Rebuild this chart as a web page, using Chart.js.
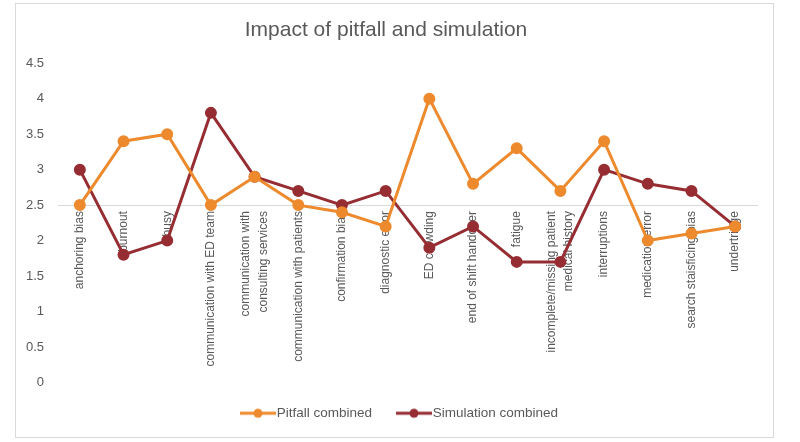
<!DOCTYPE html>
<html>
<head>
<meta charset="utf-8">
<script src="https://cdn.jsdelivr.net/npm/chart.js@4.4.1/dist/chart.umd.min.js"></script>
<style>
  body { margin: 0; background: #fff; }
  #wrap { position: relative; width: 800px; height: 442px; }
  #frame { position: absolute; left: 15px; top: 3px; width: 757px; height: 433px; border: 1px solid #d9d9d9; }
  canvas { position: absolute; left: 0; top: 0; }
</style>
</head>
<body>
<div id="wrap">
  <div id="frame"></div>
  <canvas id="impactChart" width="800" height="442"></canvas>
</div>
<script>
// categories (x axis)
const categories = [
  "anchoring bias",
  "burnout",
  "busy",
  "communication with ED team",
  ["communication with", "consulting services"],
  "communication with patients",
  "confirmation bias",
  "diagnostic error",
  "ED crowding",
  "end of shift handover",
  "fatigue",
  ["incomplete/missing patient", "medical history"],
  "interruptions",
  "medication error",
  "search staisficing bias",
  "undertriage"
];

// series values
const pitfallCombined = [2.5, 3.4, 3.5, 2.5, 2.9, 2.5, 2.4, 2.2, 4.0, 2.8, 3.3, 2.7, 3.4, 2.0, 2.1, 2.2];
const simulationCombined = [3.0, 1.8, 2.0, 3.8, 2.9, 2.7, 2.5, 2.7, 1.9, 2.2, 1.7, 1.7, 3.0, 2.8, 2.7, 2.2];

// y axis
const yMin = 0;
const yMax = 4.5;
const yStep = 0.5;
const axisCrossing = 2.5;

const orange = "#ED8A2D";
const darkRed = "#962D33";
const textGrey = "#595959";

// legend marker: short line with a dot in the middle, like the Excel legend
// (6px of empty space on the left so the line ends right where the text starts)
function legendMarker(color) {
  const c = document.createElement("canvas");
  c.width = 42;
  c.height = 12;
  const g = c.getContext("2d");
  g.strokeStyle = color;
  g.lineWidth = 3;
  g.beginPath();
  g.moveTo(6, 6);
  g.lineTo(42, 6);
  g.stroke();
  g.fillStyle = color;
  g.beginPath();
  g.arc(24, 6, 4.5, 0, Math.PI * 2);
  g.fill();
  return c;
}

// center the two-line category labels on their tick, and nudge the legend
const tweaks = {
  id: "tweaks",
  afterLayout(chart) {
    const lg = chart.legend;
    if (lg) {
      lg.left += 13;
      lg.right += 13;
    }
  },
  beforeDraw(chart) {
    const scale = chart.scales.x;
    const items = scale.getLabelItems(chart.chartArea);
    items.forEach((item) => {
      if (Array.isArray(item.label) && item.label.length > 1) {
        const lh = item.font.lineHeight;
        item.textOffset -= (item.label.length - 1) * lh / 2;
      }
    });
  }
};

const ctx = document.getElementById("impactChart").getContext("2d");
new Chart(ctx, {
  type: "line",
  data: {
    labels: categories,
    datasets: [
      {
        label: "Pitfall combined",
        data: pitfallCombined,
        borderColor: orange,
        backgroundColor: orange,
        pointBackgroundColor: orange,
        pointBorderColor: orange,
        borderWidth: 3,
        pointRadius: 4.5,
        tension: 0
      },
      {
        label: "Simulation combined",
        data: simulationCombined,
        borderColor: darkRed,
        backgroundColor: darkRed,
        pointBackgroundColor: darkRed,
        pointBorderColor: darkRed,
        borderWidth: 3,
        pointRadius: 4.5,
        tension: 0
      }
    ]
  },
  plugins: [tweaks],
  options: {
    responsive: false,
    animation: false,
    layout: {
      padding: { left: 15, right: 43, top: 5, bottom: 12 }
    },
    plugins: {
      title: {
        display: true,
        text: "Impact of pitfall and simulation",
        color: textGrey,
        font: { family: "Liberation Sans", size: 21, weight: "normal" },
        padding: { top: 13, bottom: 20 }
      },
      legend: {
        position: "bottom",
        labels: {
          color: textGrey,
          font: { family: "Liberation Sans", size: 13.5 },
          usePointStyle: true,
          pointStyleWidth: 30,
          padding: 24,
          generateLabels: function (chart) {
            const items = Chart.defaults.plugins.legend.labels.generateLabels(chart);
            items.forEach((item, i) => {
              item.pointStyle = legendMarker(i === 0 ? orange : darkRed);
            });
            return items;
          }
        }
      },
      tooltip: { enabled: false }
    },
    scales: {
      x: {
        type: "category",
        offset: true,
        position: { y: axisCrossing },
        grid: { display: false, drawTicks: false },
        border: { display: true, color: "#d9d9d9", width: 1 },
        ticks: {
          autoSkip: false,
          minRotation: 90,
          maxRotation: 90,
          padding: 6,
          color: textGrey,
          font: { family: "Liberation Sans", size: 12, lineHeight: 1.45 }
        }
      },
      y: {
        min: yMin,
        max: yMax,
        grid: { display: false, drawTicks: false },
        border: { display: false },
        ticks: {
          stepSize: yStep,
          padding: 14,
          color: textGrey,
          font: { family: "Liberation Sans", size: 13 },
          callback: function (value) {
            return value.toString();
          }
        },
        afterFit: function (scale) {
          scale.width = 43;
        }
      }
    }
  }
});
</script>
</body>
</html>
